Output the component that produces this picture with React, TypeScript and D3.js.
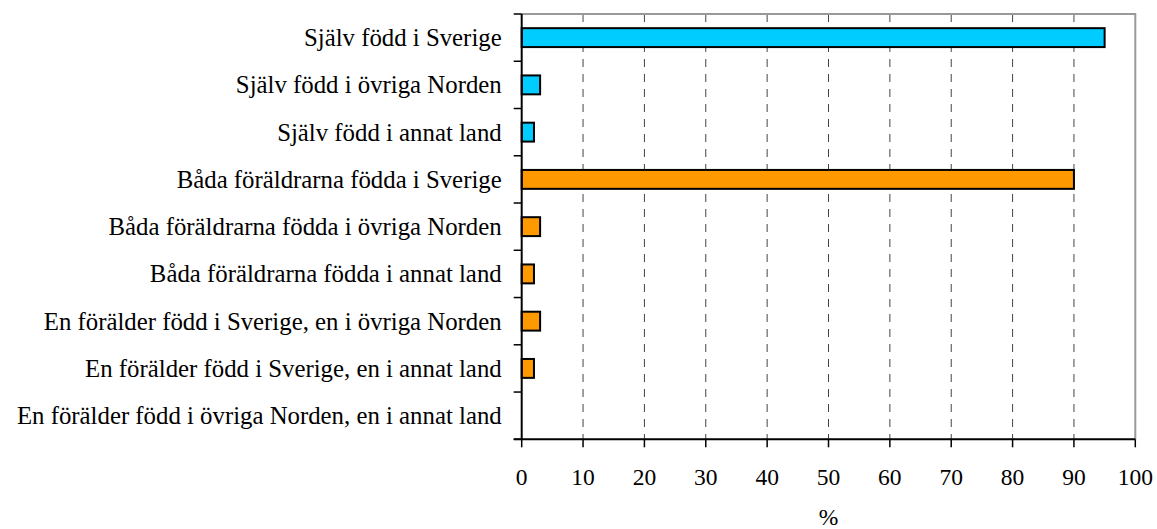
import React, { useRef, useEffect } from "react";
import { select, scaleLinear, scaleBand, range } from "d3";

// kategorier, uppifrån och ned
const categories = [
  "Själv född i Sverige",
  "Själv född i övriga Norden",
  "Själv född i annat land",
  "Båda föräldrarna födda i Sverige",
  "Båda föräldrarna födda i övriga Norden",
  "Båda föräldrarna födda i annat land",
  "En förälder född i Sverige, en i övriga Norden",
  "En förälder född i Sverige, en i annat land",
  "En förälder född i övriga Norden, en i annat land",
];
const values = [95, 3, 2, 90, 3, 2, 3, 2, 0];
const groups = ["self", "self", "self", "parents", "parents", "parents", "parents", "parents", "parents"];
const xTicks = [0, 10, 20, 30, 40, 50, 60, 70, 80, 90, 100];
const xLabel = "%";

const colors: Record<string, string> = { self: "#00CCFF", parents: "#FF9900" };

const W = 1157;
const H = 529;
const margin = { top: 14, right: 21.7, bottom: 89.7, left: 521.7 };
const FONT = '"Liberation Serif", "Times New Roman", "DejaVu Serif", serif';

function App() {
  const svgRef = useRef<SVGSVGElement>(null);

  useEffect(() => {
    const svg = select(svgRef.current);
    svg.selectAll("*").remove();

    const x0 = margin.left;
    const x1 = W - margin.right;
    const y0 = margin.top;
    const y1 = H - margin.bottom;

    const xScale = scaleLinear().domain([0, 100]).range([x0, x1]);
    const yScale = scaleBand<number>()
      .domain(categories.map((c, i) => i))
      .range([y0, y1])
      .paddingInner(0.6)
      .paddingOuter(0.3);
    // category boundaries for tick marks
    const edge = scaleLinear().domain([0, categories.length]).range([y0, y1]);

    // grid
    svg
      .selectAll(".grid")
      .data(xTicks.filter((t) => t > 0 && t < 100))
      .join("line")
      .attr("class", "grid")
      .attr("x1", (d) => xScale(d))
      .attr("x2", (d) => xScale(d))
      .attr("y1", y0)
      .attr("y2", y1)
      .attr("stroke", "#444")
      .attr("stroke-width", 1)
      .attr("stroke-dasharray", "8,7");

    // gray frame top/right
    svg
      .append("path")
      .attr("d", `M${x0},${y0}H${x1}V${y1}`)
      .attr("fill", "none")
      .attr("stroke", "#999")
      .attr("stroke-width", 2);

    // bars
    svg
      .selectAll(".bar")
      .data(values)
      .join("rect")
      .attr("class", "bar")
      .attr("x", xScale(0))
      .attr("y", (v, i) => yScale(i) as number)
      .attr("width", (v) => xScale(v) - xScale(0))
      .attr("height", yScale.bandwidth())
      .attr("fill", (v, i) => colors[groups[i]])
      .attr("stroke", "#000")
      .attr("stroke-width", 2)
      .style("display", (v) => (v > 0 ? null : "none"));

    // y axis
    svg
      .append("line")
      .attr("x1", x0)
      .attr("x2", x0)
      .attr("y1", y0)
      .attr("y2", y1)
      .attr("stroke", "#000")
      .attr("stroke-width", 2);
    svg
      .selectAll(".ytick")
      .data(range(categories.length + 1))
      .join("line")
      .attr("class", "ytick")
      .attr("x1", x0 - 8)
      .attr("x2", x0)
      .attr("y1", (d) => edge(d))
      .attr("y2", (d) => edge(d))
      .attr("stroke", "#000")
      .attr("stroke-width", 1.5);
    svg
      .selectAll(".ylabel")
      .data(categories)
      .join("text")
      .attr("class", "ylabel")
      .attr("x", x0 - 20)
      .attr("y", (c, i) => (yScale(i) as number) + yScale.bandwidth() / 2 + 8.5)
      .attr("text-anchor", "end")
      .style("font-family", FONT)
      .style("font-size", "24.8px")
      .attr("fill", "#000")
      .text((c) => c);

    // x axis
    svg
      .append("line")
      .attr("x1", x0 - 8)
      .attr("x2", x1)
      .attr("y1", y1)
      .attr("y2", y1)
      .attr("stroke", "#000")
      .attr("stroke-width", 2);
    svg
      .selectAll(".xtick")
      .data(xTicks)
      .join("line")
      .attr("class", "xtick")
      .attr("x1", (d) => xScale(d))
      .attr("x2", (d) => xScale(d))
      .attr("y1", y1)
      .attr("y2", y1 + 8)
      .attr("stroke", "#000")
      .attr("stroke-width", 1.5);
    svg
      .selectAll(".xlabel")
      .data(xTicks)
      .join("text")
      .attr("class", "xlabel")
      .attr("x", (d) => xScale(d))
      .attr("y", 485)
      .attr("text-anchor", "middle")
      .style("font-family", FONT)
      .style("font-size", "23.5px")
      .attr("fill", "#000")
      .text((d) => d);

    svg
      .append("text")
      .attr("x", (x0 + x1) / 2)
      .attr("y", 525)
      .attr("text-anchor", "middle")
      .style("font-family", FONT)
      .style("font-size", "23.5px")
      .attr("fill", "#000")
      .text(xLabel);
  }, []);

  return (
    <svg
      ref={svgRef}
      width={W}
      height={H}
      style={{ position: "absolute", left: 0, top: 0, background: "#fff" }}
    />
  );
}

export default App;
